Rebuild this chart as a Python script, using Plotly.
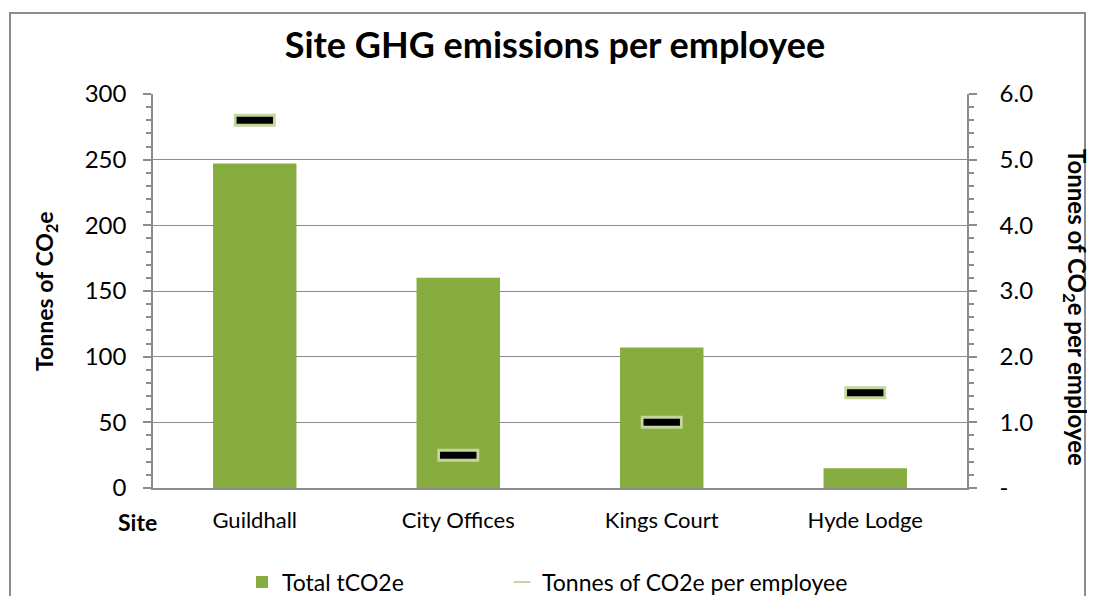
import plotly.graph_objects as go

sites = ["Guildhall", "City Offices", "Kings Court", "Hyde Lodge"]
total_tco2e = [247, 160, 107, 15]
per_employee = [5.6, 0.5, 1.0, 1.45]

left_ticks = [0, 50, 100, 150, 200, 250, 300]
right_tickvals = [0, 1, 2, 3, 4, 5, 6]
right_ticktext = ["-", "1.0", "2.0", "3.0", "4.0", "5.0", "6.0"]

FONT = "Lato"
GRID = "#8c8c8c"
OFF = 8  # page body margin offset
W, H = 1095 - OFF, 596 - OFF
L, R, T, B = 153 - OFF, 967 - OFF, 94 - OFF, 488 - OFF
PW, PH = R - L, B - T


def px(sx):
    return (sx - OFF - L) / PW


def py(sy):
    return (B - (sy - OFF)) / PH


fig = go.Figure()
fig.add_trace(go.Bar(
    x=sites, y=total_tco2e, name="Total tCO2e",
    marker=dict(color="#87AC3F", line=dict(width=0)),
    width=0.41, yaxis="y", legend="legend",
))
# light-green border under the per-employee markers
fig.add_trace(go.Scatter(
    x=sites, y=per_employee, mode="markers", yaxis="y2",
    name="Tonnes of CO2e per employee", legend="legend2",
    marker=dict(symbol="line-ew", size=30, line=dict(width=13, color="#C3D69B")),
))
fig.add_trace(go.Scatter(
    x=sites, y=per_employee, mode="markers", yaxis="y2", showlegend=False,
    name="Tonnes of CO2e per employee",
    marker=dict(symbol="line-ew", size=26, line=dict(width=7, color="#000000")),
))

fig.update_layout(
    width=W, height=H,
    margin=dict(l=L, r=W - R, t=T, b=H - B, autoexpand=False),
    paper_bgcolor="white", plot_bgcolor="white",
    font=dict(family=FONT, size=22, color="#000"),
    title=dict(text="<b>Site GHG emissions per employee</b>", x=(555 - OFF) / W, xref="container",
               y=1 - (45 - OFF) / H, yref="container", yanchor="middle", xanchor="center",
               font=dict(size=36, family=FONT)),
    xaxis=dict(showline=True, linecolor=GRID, linewidth=1.5, ticks="",
               tickfont=dict(size=22), ticklabelstandoff=12, automargin=False),
    yaxis=dict(range=[0, 300], tickvals=left_ticks, showgrid=True, gridcolor=GRID,
               gridwidth=1, showline=True, linecolor=GRID, linewidth=1.5,
               ticks="outside", ticklen=8, tickcolor=GRID, tickwidth=1.5,
               minor=dict(dtick=10, ticks="outside", ticklen=5, tickcolor=GRID, tickwidth=1.5, showgrid=False),
               tickfont=dict(size=24), zeroline=False, ticklabelstandoff=12, automargin=False),
    yaxis2=dict(range=[0, 6], overlaying="y", side="right", tickvals=right_tickvals,
                ticktext=right_ticktext, showgrid=False, showline=True, linecolor=GRID,
                linewidth=1.5, ticks="outside", ticklen=8, tickcolor=GRID, tickwidth=1.5,
                minor=dict(dtick=0.2, ticks="outside", ticklen=5, tickcolor=GRID, tickwidth=1.5),
                tickfont=dict(size=24), zeroline=False, ticklabelstandoff=18, automargin=False),
    legend=dict(orientation="h", x=px(242), xanchor="left", y=py(582), yanchor="middle",
                font=dict(size=23), itemwidth=30, bgcolor="rgba(0,0,0,0)"),
    legend2=dict(orientation="h", x=px(502), xanchor="left", y=py(582), yanchor="middle",
                 font=dict(size=23), itemwidth=30, itemsizing="constant", bgcolor="rgba(0,0,0,0)"),
    showlegend=True,
)

fig.add_annotation(text="<b>Tonnes of CO<sub>2</sub>e</b>", xref="paper", yref="paper",
                   x=px(45), y=py(291), textangle=-90, showarrow=False,
                   xanchor="center", yanchor="middle", font=dict(size=23, family=FONT))
fig.add_annotation(text="<b>Tonnes of CO<sub>2</sub>e per employee</b>", xref="paper", yref="paper",
                   x=px(1076), y=py(307), textangle=90, showarrow=False,
                   xanchor="center", yanchor="middle", font=dict(size=24, family=FONT))
fig.add_annotation(text="<b>Site</b>", xref="paper", yref="paper",
                   x=px(137), y=py(522), xanchor="center", yanchor="middle",
                   showarrow=False, font=dict(size=23, family=FONT))

fig.add_shape(type="rect", xref="paper", yref="paper",
              x0=px(10), x1=px(1085),
              y0=py(640), y1=py(13),
              line=dict(color="#8c8c8c", width=2), layer="below")

fig.write_html("out.html")
